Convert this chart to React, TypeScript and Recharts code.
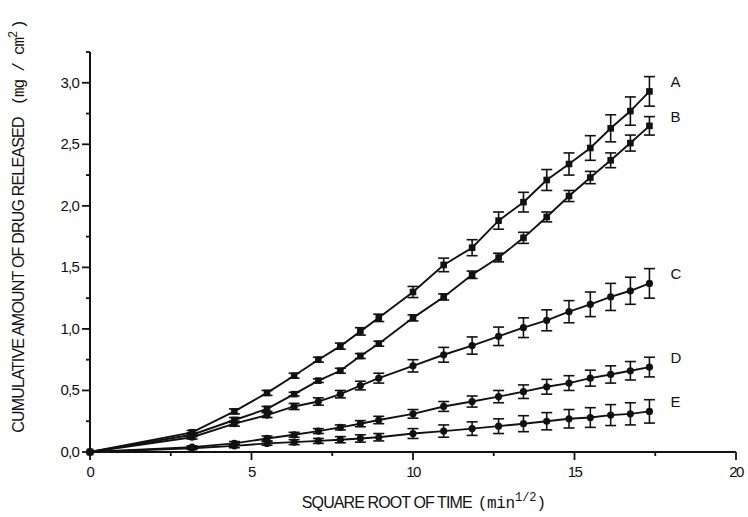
import React from 'react';
import { LineChart, Line, XAxis, YAxis, ErrorBar } from 'recharts';

// square root of time (min^1/2): sqrt of 0, 10, 20 ... 300 min
const sqrtTime = [0, 3.16, 4.47, 5.48, 6.32, 7.07, 7.75, 8.37, 8.94, 10, 10.95, 11.83, 12.65, 13.42, 14.14, 14.83, 15.49, 16.12, 16.73, 17.32];

const seriesA = [0, 0.16, 0.33, 0.48, 0.62, 0.75, 0.86, 0.98, 1.09, 1.3, 1.52, 1.66, 1.88, 2.03, 2.21, 2.34, 2.47, 2.63, 2.77, 2.93];
const seriesB = [0, 0.14, 0.26, 0.35, 0.47, 0.58, 0.66, 0.78, 0.88, 1.09, 1.26, 1.44, 1.58, 1.74, 1.91, 2.08, 2.23, 2.37, 2.51, 2.65];
const seriesC = [0, 0.12, 0.23, 0.3, 0.37, 0.41, 0.47, 0.54, 0.6, 0.7, 0.79, 0.865, 0.94, 1.01, 1.07, 1.14, 1.2, 1.26, 1.31, 1.37];
const seriesD = [0, 0.04, 0.07, 0.11, 0.14, 0.17, 0.2, 0.23, 0.26, 0.31, 0.37, 0.41, 0.45, 0.49, 0.53, 0.56, 0.6, 0.63, 0.66, 0.69];
const seriesE = [0, 0.03, 0.05, 0.07, 0.08, 0.09, 0.1, 0.11, 0.12, 0.15, 0.17, 0.19, 0.21, 0.23, 0.25, 0.27, 0.28, 0.3, 0.31, 0.33];

const errA = [0, 0.015, 0.02, 0.02, 0.02, 0.02, 0.025, 0.03, 0.03, 0.045, 0.055, 0.065, 0.07, 0.08, 0.085, 0.09, 0.1, 0.11, 0.115, 0.12];
const errB = [0, 0.015, 0.02, 0.02, 0.015, 0.015, 0.02, 0.02, 0.02, 0.025, 0.025, 0.03, 0.035, 0.045, 0.04, 0.045, 0.05, 0.06, 0.065, 0.075];
const errC = [0, 0.015, 0.02, 0.02, 0.025, 0.03, 0.03, 0.035, 0.04, 0.05, 0.06, 0.07, 0.075, 0.08, 0.085, 0.09, 0.1, 0.11, 0.11, 0.12];
const errD = [0, 0.01, 0.015, 0.02, 0.02, 0.02, 0.02, 0.025, 0.03, 0.035, 0.04, 0.045, 0.05, 0.055, 0.06, 0.06, 0.065, 0.07, 0.075, 0.08];
const errE = [0, 0.01, 0.015, 0.015, 0.02, 0.02, 0.025, 0.03, 0.03, 0.04, 0.05, 0.055, 0.06, 0.065, 0.07, 0.075, 0.08, 0.085, 0.09, 0.095];

const xTicks = [0, 2.5, 5, 7.5, 10, 12.5, 15, 17.5, 20];
const yTicks = [0, 0.25, 0.5, 0.75, 1, 1.25, 1.5, 1.75, 2, 2.25, 2.5, 2.75, 3, 3.25];

const data = sqrtTime.map((x, i) => ({
  x,
  a: seriesA[i], aErr: errA[i] || undefined,
  b: seriesB[i], bErr: errB[i] || undefined,
  c: seriesC[i], cErr: errC[i] || undefined,
  d: seriesD[i], dErr: errD[i] || undefined,
  e: seriesE[i], eErr: errE[i] || undefined,
}));

const font = '"Liberation Sans", Arial, sans-serif';
const mono = '"Liberation Mono", "DejaVu Sans Mono", monospace';
const ink = '#111';

const isMajor = (v: number, step: number) => Math.abs(v / step - Math.round(v / step)) < 1e-6;

const YTick = (props: any) => {
  const { x, y, payload } = props;
  const major = isMajor(payload.value, 0.5);
  return (
    <g>
      <line x1={x - (major ? 8 : 4)} x2={x} y1={y} y2={y} stroke={ink} strokeWidth={1.8} />
      {major && (
        <text x={x - 11} y={y + 5} textAnchor="end" fontSize={15} fontFamily={font} letterSpacing={-0.8} fill={ink}>
          {payload.value.toFixed(1).replace('.', ',')}
        </text>
      )}
    </g>
  );
};

const XTick = (props: any) => {
  const { x, y, payload } = props;
  const major = isMajor(payload.value, 5);
  return (
    <g>
      <line x1={x} x2={x} y1={y} y2={y + (major ? 8 : 4)} stroke={ink} strokeWidth={1.8} />
      {major && (
        <text x={x} y={y + 25} textAnchor="middle" fontSize={15} fontFamily={font} letterSpacing={-1.5} fill={ink}>
          {payload.value}
        </text>
      )}
    </g>
  );
};

const squareDot = (props: any) => {
  const { cx, cy, index } = props;
  return <rect key={`s${index}`} x={cx - 3.3} y={cy - 3.3} width={6.6} height={6.6} fill={ink} />;
};

const roundDot = (props: any) => {
  const { cx, cy, index } = props;
  return <circle key={`c${index}`} cx={cx} cy={cy} r={3.6} fill={ink} />;
};

const endLabel = (name: string) => (props: any) => {
  const { x, y, index } = props;
  if (index !== sqrtTime.length - 1) return <g key={`l${index}`} />;
  return (
    <text key={`l${index}`} x={x + 21} y={y - 4} fontSize={15} fontFamily={font} fill={ink}>
      {name}
    </text>
  );
};

const series = [
  { key: 'a', name: 'A', dot: squareDot },
  { key: 'b', name: 'B', dot: squareDot },
  { key: 'c', name: 'C', dot: roundDot },
  { key: 'd', name: 'D', dot: roundDot },
  { key: 'e', name: 'E', dot: roundDot },
];

export default function App() {
  return (
    <div style={{ position: 'fixed', left: 0, top: 0, width: 748, height: 517, background: '#fff' }}>
      <LineChart width={748} height={517} data={data} margin={{ top: 52, right: 12, bottom: 35, left: 30 }}>
        <XAxis
          dataKey="x"
          type="number"
          domain={[0, 20]}
          ticks={xTicks}
          interval={0}
          height={30}
          tickSize={0}
          tickMargin={0}
          tick={<XTick />}
          axisLine={{ stroke: ink, strokeWidth: 2 }}
        />
        <YAxis
          type="number"
          domain={[0, 3.25]}
          ticks={yTicks}
          interval={0}
          width={60}
          tickSize={0}
          tickMargin={0}
          tick={<YTick />}
          axisLine={{ stroke: ink, strokeWidth: 2 }}
        />
        {series.map((s) => (
          <Line
            key={s.key}
            dataKey={s.key}
            type="linear"
            stroke={ink}
            strokeWidth={1.9}
            dot={s.dot}
            activeDot={false}
            label={endLabel(s.name)}
            isAnimationActive={false}
          >
            <ErrorBar dataKey={`${s.key}Err`} direction="y" width={5.5} stroke={ink} strokeWidth={1.6} />
          </Line>
        ))}
      </LineChart>
      <svg width={748} height={517} style={{ position: 'absolute', left: 0, top: 0, pointerEvents: 'none' }}>
        <text
          transform="translate(24, 226) rotate(-90)"
          textAnchor="middle"
          fontSize={16}
          fontFamily={font}
          letterSpacing={-0.8}
          fill={ink}
        >
          CUMULATIVE AMOUNT OF DRUG RELEASED
          <tspan fontFamily={mono} letterSpacing={-1.2} dx={12}>(mg / cm</tspan>
          <tspan fontFamily={mono} fontSize={12} dy={-7} letterSpacing={0}>2</tspan>
          <tspan fontFamily={mono} dy={7} letterSpacing={0} dx={2}>)</tspan>
        </text>
        <text x={424} y={508} textAnchor="middle" fontSize={16} fontFamily={font} letterSpacing={-0.9} fill={ink}>
          SQUARE ROOT OF TIME
          <tspan fontFamily={mono} letterSpacing={-0.3} dx={6}>(min</tspan>
          <tspan fontFamily={mono} fontSize={12} dy={-7} letterSpacing={0}>1/2</tspan>
          <tspan fontFamily={mono} dy={7} letterSpacing={0}>)</tspan>
        </text>
      </svg>
    </div>
  );
}
